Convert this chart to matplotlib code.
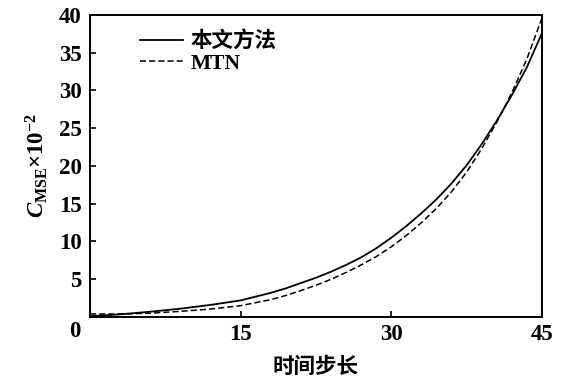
import matplotlib
matplotlib.use("Agg")
import matplotlib.pyplot as plt

steps = [0, 3, 6, 9, 12, 15, 18, 19.5, 21, 22.5, 24, 25.5, 27, 28.5, 30, 31.5, 33, 34.5,
         36, 37.5, 39, 40.5, 42, 43.5, 45]
ours = [0.1, 0.35, 0.7, 1.1, 1.6, 2.2, 3.2, 3.8, 4.5, 5.2, 6.0, 6.9, 7.9, 9.1, 10.5, 12.05,
        13.75, 15.6, 17.7, 20.1, 22.9, 26.0, 29.4, 33.1, 37.6]
mtn = [0.4, 0.4, 0.5, 0.75, 1.05, 1.5, 2.3, 2.85, 3.5, 4.2, 5.0, 5.9, 6.9, 8.0, 9.3, 10.8,
       12.5, 14.4, 16.6, 19.2, 22.3, 25.8, 29.7, 34.2, 39.6]
labels = ["本文方法", "MTN"]
xticks = [15, 30, 45]
yticks = [5, 10, 15, 20, 25, 30, 35, 40]

serif = ["Liberation Serif", "Noto Sans CJK SC"]
cjk = ["Noto Sans CJK SC"]
plt.rcParams['font.family'] = serif
plt.rcParams['mathtext.fontset'] = 'custom'
plt.rcParams['mathtext.rm'] = 'Liberation Serif:bold'
plt.rcParams['mathtext.it'] = 'Liberation Serif:italic:bold'
plt.rcParams['mathtext.bf'] = 'Liberation Serif:bold'

fig = plt.figure(figsize=(5.64, 3.84), dpi=100)
ax = fig.add_axes([0.1596, 0.1745, 0.8014, 0.7865])

ax.plot(steps, ours, color='black', lw=1.3, ls='-', label=labels[0])
ax.plot(steps, mtn, color='black', lw=1.1, ls=(0, (4, 2)), label=labels[1])

ax.set_xlim(0, 45)
ax.set_ylim(0, 40)
ax.set_xticks(xticks)
ax.set_yticks(yticks)
ax.set_xticklabels([str(t) for t in xticks], fontsize=16.5, fontweight='bold', family=serif)
ax.set_yticklabels([str(t) for t in yticks], fontsize=16.5, fontweight='bold', family=serif)
ax.tick_params(axis='y', direction='in', length=4, width=1.2, pad=6, right=False)
ax.tick_params(axis='x', direction='in', length=4, width=1.2, pad=5, top=False)
for s in ax.spines.values():
    s.set_linewidth(1.4)

ax.text(-0.034, -0.012, "0", transform=ax.transAxes, ha='center', va='top',
        fontsize=16.5, fontweight='bold', family=serif)

ax.set_xlabel("时间步长", fontsize=15.5, fontweight='bold', family=cjk, labelpad=8)
ax.set_ylabel(r"$C_{\mathrm{MSE}}$×10$^{-2}$", fontsize=16.5, fontweight='bold', labelpad=6)

leg = ax.legend(loc='upper left', bbox_to_anchor=(0.067, 1.01), frameon=False,
                handlelength=2.0, handletextpad=0.35, labelspacing=0.05,
                prop={'family': serif, 'weight': 'bold', 'size': 15.5})

fig.savefig("out.png", dpi=100)
